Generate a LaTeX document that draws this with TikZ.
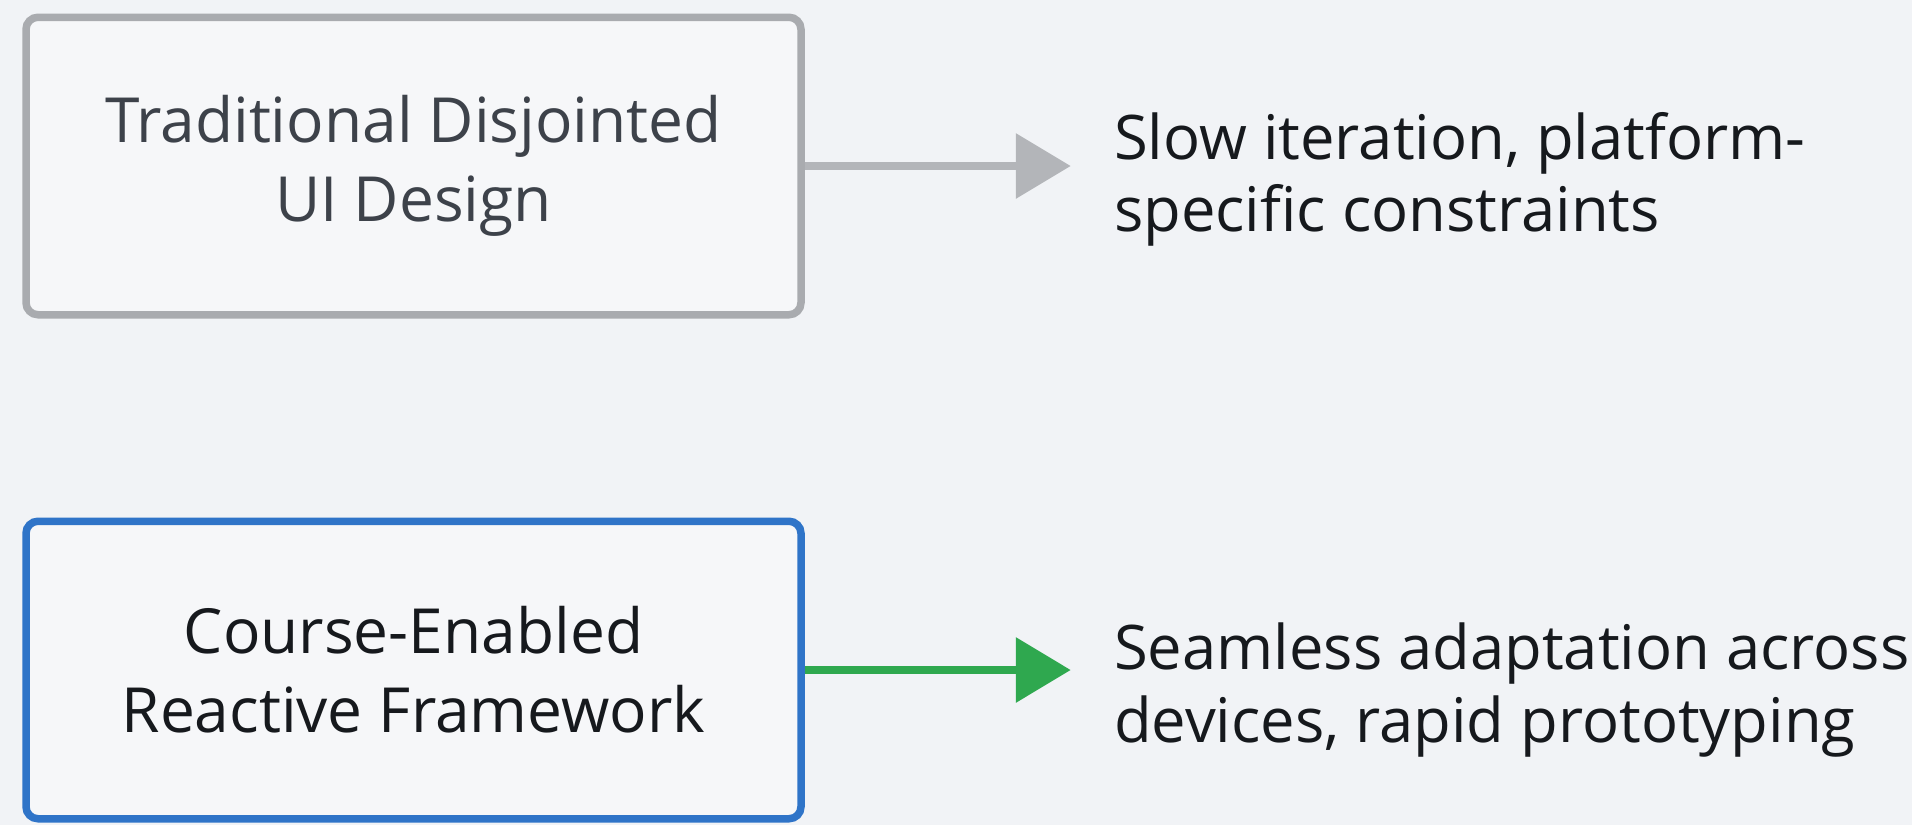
\documentclass[tikz,border=0pt]{standalone}
\usepackage{fontspec}
\setmainfont{Open Sans}
\usetikzlibrary{positioning,arrows.meta}
\definecolor{bgcol}{HTML}{F1F3F6}
\definecolor{boxfill}{HTML}{F6F7F9}
\definecolor{oldline}{HTML}{A9ABAF}
\definecolor{oldtext}{HTML}{3D424A}
\definecolor{newline}{HTML}{2F74C8}
\definecolor{newtext}{HTML}{16191D}
\definecolor{oldarrow}{HTML}{B3B5B9}
\definecolor{newarrow}{HTML}{2FA84F}
\begin{document}
\begin{tikzpicture}[node distance=3.98cm]
			\tikzset{box/.style={draw, line width=0.15cm, rounded corners=0.24cm, fill=boxfill,
				minimum width=15.5cm, minimum height=5.95cm, align=center,
				font=\fontsize{35.4}{45}\selectfont},
			res/.style={anchor=west, inner sep=0pt, align=left, text=newtext,
				font=\fontsize{35}{41}\selectfont},
			f/.style={line width=0.17cm, -{Triangle[length=1.1cm, width=1.27cm]}, shorten >=0.86cm}};

			\useasboundingbox (0,0) rectangle (38.24,-16.5);
			\fill[bgcol] (0,0) rectangle (38.24,-16.5);

			\node[box, draw=oldline, text=oldtext] (old) at (8.27,-3.32) {Traditional Disjointed\\UI Design};
			\node[box, draw=newline, text=newtext, below=of old] (new) {Course-Enabled\\Reactive Framework};

			\node[res, right=6.18cm of old.east, yshift=-0.27cm] (oldres) {Slow iteration, platform-\\specific constraints};
			\node[res, right=6.18cm of new.east, yshift=-0.4cm] (newres) {Seamless adaptation across\\devices, rapid prototyping};

			\draw[f, oldarrow] (old.east) -- (old.east -| oldres.west);
			\draw[f, newarrow] (new.east) -- (new.east -| newres.west);
		\end{tikzpicture}
\end{document}
